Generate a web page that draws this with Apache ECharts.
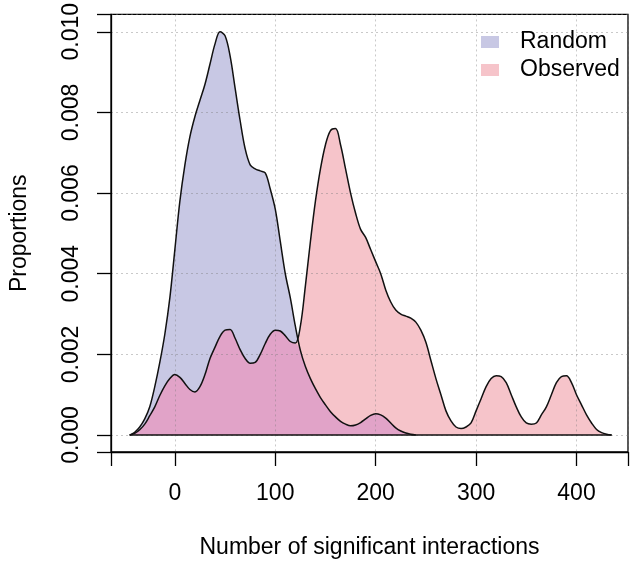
<!DOCTYPE html>
<html>
<head>
<meta charset="utf-8">
<script src="https://cdn.jsdelivr.net/npm/echarts@6/dist/echarts.min.js"></script>
<style>
html,body{margin:0;padding:0;background:#fff;}
#chart{width:633px;height:564px;}
</style>
</head>
<body>
<div id="chart"></div>
<script>
// Sample positions (number of significant interactions)
const xs = [-45,-40,-35,-30,-25,-20,-15,-10,-5,0,5,10,15,20,25,30,35,40,45,50,55,60,65,70,75,80,85,90,95,100,
  105,110,115,120,125,130,135,140,145,150,155,160,165,170,175,180,185,190,195,200,
  205,210,215,220,225,230,235,240,245,250,255,260,265,270,275,280,285,290,295,300,
  305,310,315,320,325,330,335,340,345,350,355,360,365,370,375,380,385,390,395,400,
  405,410,415,420,425,430,435];

// Density of the random interactions
const randomVals = [0,0.00007,0.0002,0.0004,0.0007,0.0012,0.0018,0.0025,0.0034,0.0046,0.0058,0.0067,0.0074,0.0079,0.0083,0.0087,0.0092,0.0097,0.0100,0.0099,
  0.0094,0.0086,0.0078,0.0071,0.0067,0.0066,0.00655,0.0065,0.0061,0.0056,
  0.0048,0.0040,0.0034,0.0027,0.0021,0.0017,0.0014,0.00115,0.00093,0.00075,0.00058,0.00045,0.00034,0.00027,0.00023,0.00025,0.00031,0.0004,0.00049,0.00053,
  0.0005,0.00042,0.0003,0.00018,0.0001,0.00005,0.00002,0,0,0,0,0,0,0,0,0,0,0,0,0,
  0,0,0,0,0,0,0,0,0,0,0,0,0,0,0,0,0,0,0,0,
  0,0,0,0,0,0,0];

// Density of the observed interactions
const observedVals = [0,0.00004,0.00013,0.00027,0.00048,0.0007,0.00098,0.00122,0.0014,0.0015,0.00143,0.00128,0.00113,0.00107,0.0012,0.0015,0.0019,0.00218,0.00245,0.0026,
  0.00262,0.0024,0.00212,0.0019,0.00178,0.0018,0.002,0.00227,0.0025,0.0026,
  0.00258,0.00246,0.00232,0.00228,0.0027,0.0037,0.0048,0.0058,0.0066,0.0072,0.00755,0.0076,0.0072,0.0066,0.006,0.0055,0.0051,0.0049,0.0046,0.0043,
  0.004,0.0036,0.0033,0.0031,0.003,0.00295,0.0029,0.0028,0.0026,0.0023,0.00185,0.0014,0.001,0.0006,0.00035,0.0002,0.00016,0.0002,0.0003,0.0006,
  0.0009,0.0012,0.0014,0.00147,0.00145,0.0013,0.001,0.0007,0.00045,0.0003,0.00027,0.0003,0.0005,0.0007,0.001,0.0013,0.00145,0.00147,0.0013,0.001,
  0.00075,0.0005,0.0003,0.00014,0.00006,0.00002,0];

const xTicks = [0,100,200,300,400];
const yTicks = [0,0.002,0.004,0.006,0.008,0.010];
const seriesNames = ['Random','Observed'];

const colRandom = '#c8c8e4';
const colObserved = '#f6c4ca';
const colOverlap = '#e1a3c8';
const FONT = 'Liberation Sans, Arial, sans-serif';

const pairs = (ys) => xs.map((x,i)=>[x, ys[i]]);
const overlapVals = xs.map((x,i)=>Math.min(randomVals[i], observedVals[i]));

function firstNonZero(ys){ for(let i=0;i<ys.length;i++){ if(ys[i]>0) return Math.max(i-1,0); } return 0; }
function lastNonZero(ys){ for(let i=ys.length-1;i>=0;i--){ if(ys[i]>0) return Math.min(i+1,ys.length-1); } return ys.length-1; }

// show a label only where it is one of the listed tick values
const isTick = (arr, v) => arr.some(t => Math.abs(t - v) < 1e-9);

const areaCommon = {type:'line', smooth:0.35, symbol:'none', showSymbol:false, silent:true, lineStyle:{width:0}, z:2};
const lineCommon = {type:'line', smooth:0.35, symbol:'none', showSymbol:false, silent:true, lineStyle:{width:1.5,color:'#111'}, z:5};

const chart = echarts.init(document.getElementById('chart'), null, {renderer:'canvas'});
chart.setOption({
  animation:false,
  backgroundColor:'#fff',
  grid:{left:108, top:13, width:520, height:439, show:true, borderColor:'#000', borderWidth:1.3, containLabel:false},
  legend:{
    orient:'vertical', left:481, top:30, padding:0, itemGap:4,
    itemWidth:18, itemHeight:12, icon:'rect',
    textStyle:{fontSize:23, fontFamily:FONT, color:'#000', lineHeight:24, padding:[0,0,0,16]},
    data:[
      {name:seriesNames[0], itemStyle:{color:colRandom, borderWidth:0}},
      {name:seriesNames[1], itemStyle:{color:colObserved, borderWidth:0}}
    ],
    selectedMode:false
  },
  xAxis:{
    type:'value', min:-63.6, max:451.3, splitNumber:5, z:4,
    name:'Number of significant interactions', nameLocation:'middle', nameGap:84,
    nameTextStyle:{fontSize:23, fontFamily:FONT, color:'#000'},
    axisLine:{show:true, onZero:false, lineStyle:{color:'#000', width:1.3}},
    axisTick:{show:true, inside:false, length:14, lineStyle:{color:'#000', width:1.3}},
    axisLabel:{fontSize:23, fontFamily:FONT, color:'#000', margin:30,
      formatter:(v)=> isTick(xTicks, v) ? String(v) : ''},
    splitLine:{show:true, lineStyle:{color:'rgba(120,120,120,0.4)', width:1, type:[2,3]}}
  },
  yAxis:{
    type:'value', min:-0.00042, max:0.01043, splitNumber:5, z:4,
    name:'Proportions', nameLocation:'middle', nameGap:80, nameRotate:90,
    nameTextStyle:{fontSize:23, fontFamily:FONT, color:'#000'},
    axisLine:{show:true, onZero:false, lineStyle:{color:'#000', width:1.3}},
    axisTick:{show:true, inside:false, length:14, lineStyle:{color:'#000', width:1.3}},
    axisLabel:{fontSize:23, fontFamily:FONT, color:'#000', margin:28, rotate:90,
      formatter:(v)=> isTick(yTicks, v) ? v.toFixed(3) : ''},
    splitLine:{show:true, lineStyle:{color:'rgba(120,120,120,0.4)', width:1, type:[2,3]}}
  },
  series:[
    Object.assign({}, areaCommon, {name:seriesNames[0], data:pairs(randomVals), itemStyle:{color:colRandom}, areaStyle:{color:colRandom, opacity:1}}),
    Object.assign({}, areaCommon, {name:seriesNames[1], data:pairs(observedVals), itemStyle:{color:colObserved}, areaStyle:{color:colObserved, opacity:1}}),
    Object.assign({}, areaCommon, {name:'overlap', data:pairs(overlapVals), itemStyle:{color:colOverlap}, areaStyle:{color:colOverlap, opacity:1}, z:3}),
    Object.assign({}, lineCommon, {name:'randomLine', data:pairs(randomVals).slice(firstNonZero(randomVals), lastNonZero(randomVals)+1)}),
    Object.assign({}, lineCommon, {name:'observedLine', data:pairs(observedVals)}),
    Object.assign({}, lineCommon, {name:'baseline', smooth:false, data:[[xs[0],0],[xs[xs.length-1],0]]})
  ]
});
</script>
</body>
</html>
